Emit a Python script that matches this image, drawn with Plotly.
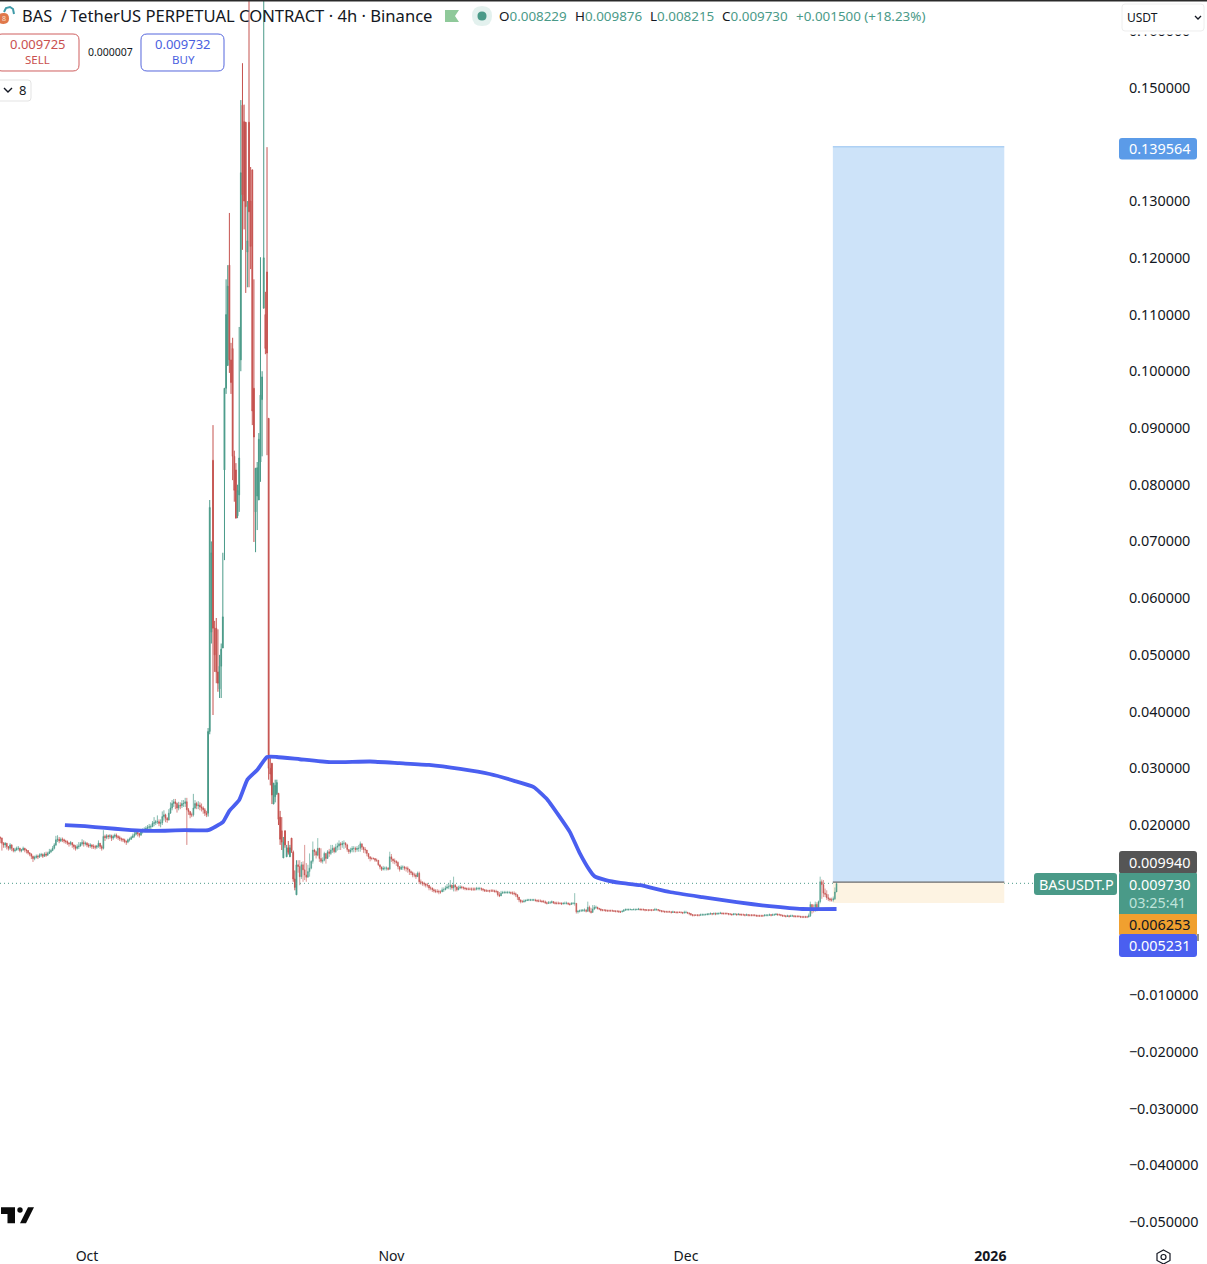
import pandas as pd
import plotly.graph_objects as go

# ---------- values are in units of 0.0001 USDT ----------
START = "2025-09-22 04:00"

early_close = [177,168,165,168,162,159,165,159,155,156,159,159,155,156,159,156,155,151,149,145,141,
               143,145,144,147,148,145,149,147,150,153,155,159, 165,174,
               175,172,175,174,172,171,168,167,169,165,162,159,
               162,163,167,169,167,168,165,163,165,162,162,161, 163,168,162,159,
               180,178,181,180,181,177,
               180,182,180,178,176,175,174,171,170,174,175,178,181,184,187,185,
               182,188,191,192,194,196,197,197,203,204,206,206,203,204,
               215,218,212,209,221,230,238,241, 238,230,235,234,238,238,241, 227,
               224,218,218,230,238,234, 235,232,230,227,221,218]
early_high = [180,178,170,170,168,163,168,166,159,160,162,163,160,158,162,160,158,156,152,150,146,
              146,148,148,150,151,150,152,153,153,158,158,163, 168,181,
              182,179,178,178,176,174,173,170,172,170,166,165,
              166,170,170,175,173,171,170,168,168,166,166,165, 165,173,168,165,
              191,183,184,183,184,183,
              183,185,185,182,181,178,177,176,173,176,178,181,185,188,192,190,
              186,191,194,196,198,200,202,201,207,214,209,217,210,210,
              224,226,220,214,228,240,244,246, 246,240,241,240,244,244,248, 248,
              230,224,222,255,244,241, 242,240,238,233,230,225]
early_low = [168,155,160,160,157,155,156,154,152,152,155,155,152,152,155,152,150,148,145,140,135,
             138,141,140,142,144,142,144,144,146,149,151,154, 157,163,
             170,168,170,170,168,167,165,162,164,160,157,155,
             157,158,162,164,162,164,161,160,160,158,158,157, 158,160,158,155,
             157,172,175,175,176,172,
             174,177,176,174,172,171,170,168,165,168,171,174,177,178,182,180,
             178,182,185,188,190,192,193,193,197,198,200,202,198,196,
             200,208,205,204,208,220,226,232, 228,222,226,228,230,232,232, 165,
             218,212,214,215,228,228, 228,226,224,220,216,214]

spike_open = [221,365,540,843,547,547,470,440,480,512,826,970,1010,1187,1020,1040,850,826,745,782,
              1020,1469,1440,1439,1210,1439,1300,1355,970,752,780,773,840,950,1111,1100,1175,917,
              300,309,237,250,255,256,214,190,142,190,144,160,144,177,152,105,77]
spike_high = [371,773,700,905,560,565,545,500,520,680,970,1162,1187,1279,1050,1059,860,838,800,1078,
              1478,1543,1470,1439,1300,1800,1360,1355,1162,829,840,891,1201,1000,1850,1140,1395,917,
              320,309,274,280,280,256,225,214,179,190,165,172,165,177,155,120,138]
spike_low = [215,360,520,394,470,450,435,424,424,512,667,960,1010,997,960,808,770,741,741,752,
             1000,1214,1250,1138,1148,1148,1180,905,699,681,720,773,805,850,1111,1030,852,280,
             270,237,237,240,253,200,165,156,142,160,144,148,144,151,100,85,77]
spike_close = [365,760,680,547,500,470,450,480,510,567,970,1100,1150,1020,980,850,790,741,790,847,
               1350,1311,1300,1290,1230,1281,1220,930,884,829,830,880,958,990,1200,1040,1032,300,
               290,253,274,270,275,210,175,170,170,165,160,152,160,155,105,90,130]

fall_close = [127,109,130,121,112,108,118,124,136,
              156,153,147,159,141,136,138,150,141,153,
              150,156,159,153,161,163,167,165,168,168,
              165,157,153,156,159,159,157,159,159,167,
              161,157,156,150,144,141,141,141,138,138,
              130,126,122,124,124,124,122,144,140,137,
              136,134,127,122,126,126,124,124,122,118,
              116,112,112,109,115,100,99,97,96,94,
              94,89,89,86,84,83,83,82,82,86,
              86,89,91,91,94,89,94,91,86,89,
              91,90,89,88,87,87,87,87,87,87,
              88,88,88,87,86,84,84,84,84,84,
              84,83,83,77,75,80,81,81,81,81,
              81,80,80,79,77,73,68,65,65,66,
              67,68,68,68,68,68,67,66,66,66,
              65,65,63,62,63,63,65,63,62,62,
              62,62,61,62,62,62,61,60,62,62,62,47]
fall_high = [138,138,135,136,165,133,130,150,138,
             171,158,155,177,160,159,143,153,150,156,
             158,165,165,162,167,169,173,170,172,173,
             170,167,157,160,163,163,162,163,165,171,
             167,162,161,156,150,145,144,143,142,141,
             138,130,127,128,127,127,126,153,149,141,
             141,138,136,127,129,129,128,127,127,122,
             120,118,116,115,118,118,104,101,100,98,
             98,93,92,90,88,87,87,86,85,90,
             90,93,96,97,103,95,109,96,90,93,
             94,93,92,91,90,90,90,90,90,90,
             91,91,91,90,89,87,87,86,86,87,
             87,86,86,84,82,84,84,84,84,84,
             84,83,83,83,81,78,73,69,68,69,
             69,70,70,70,70,70,70,69,69,69,
             68,68,67,65,66,66,67,66,65,65,
             65,64,64,64,65,65,64,63,64,64,80,62]
fall_low = [116,94,105,100,103,100,108,109,122,
            132,146,141,145,135,133,132,136,132,146,
            144,147,151,150,151,155,156,156,160,158,
            160,153,149,150,152,152,152,153,153,153,
            156,151,150,145,140,136,138,139,135,135,
            128,122,119,120,120,120,120,122,135,132,
            131,128,122,118,121,121,120,118,116,112,
            112,108,108,105,109,96,95,93,92,90,
            90,85,85,82,81,80,80,78,79,82,
            82,85,87,87,86,86,83,83,83,85,
            87,87,86,85,85,85,85,84,84,84,
            85,85,85,84,83,82,82,82,81,82,
            82,81,80,74,73,75,79,79,79,79,
            79,78,77,76,73,68,64,62,63,63,
            64,66,66,66,66,66,65,64,64,64,
            63,63,61,60,61,61,62,61,60,60,
            60,60,59,60,60,60,59,58,60,60,58,44]

quiet_close = [48,49,49,50,50,48,55,48,46,52, 55,55,53,52,50,50,50,49,49,49,
               49,49,48,48,48,47,47,48,50,51, 51,51,51,51,51,51,51,52,51,51,
               51,50,50,50,50,50,50,51,51,50, 49,48,48,47,47,47,47,46,47,46,
               46,46,46,46,45,46,46,45,44,42, 41,41,41,41,41,42,42,42,42,43,
               43,44,43,44,43,44,44,45,44,44, 44,44,43,43,42,43,43,42,43,42,
               42,42,41,42,41,41,41,41,41,40, 40,40,40,40,41,41,41,42,41,42,
               42,43,42,42,41,40,40,39,40,39, 40,40,39,39,39,39,38,38,38,38,38,
               40,60,52,50,60,50,65,100,95,80,78,72,70,68,68,70,82,97]
quiet_high = [50,51,52,52,53,52,65,58,54,59, 59,58,56,54,53,52,52,52,51,51,
              51,51,50,50,50,50,49,50,52,53, 53,53,53,52,53,53,53,54,53,53,
              53,52,52,52,52,52,52,54,53,52, 51,50,50,49,49,49,49,48,49,48,
              48,48,48,48,47,49,49,47,46,45, 43,43,43,43,43,44,44,44,44,45,
              45,46,45,46,46,46,46,47,46,46, 46,46,45,45,44,45,45,44,45,44,
              44,44,43,44,43,43,43,43,43,42, 42,42,42,42,43,43,43,44,43,44,
              44,45,44,44,43,42,42,41,42,41, 42,42,41,41,41,41,40,40,40,40,40,
              44,65,60,60,65,64,67,109,104,103,88,85,78,72,72,74,90,99]
quiet_low = [44,46,47,47,47,46,47,46,44,46, 50,52,51,50,48,48,48,47,47,47,
             47,47,47,46,46,45,45,46,47,49, 49,49,50,49,50,49,50,50,49,49,
             49,48,49,48,49,48,49,49,49,48, 47,46,46,45,46,45,46,44,45,45,
             44,44,45,44,43,44,44,43,41,40, 39,39,40,39,39,40,40,40,41,41,
             41,42,41,42,41,42,42,43,42,42, 42,42,41,41,40,41,41,40,41,40,
             40,40,39,40,39,39,39,39,39,38, 38,38,38,38,39,39,39,40,39,40,
             40,41,40,40,39,38,38,37,38,37, 38,38,37,37,37,37,36,36,36,36,36,
             37,38,44,46,47,48,50,62,70,73,73,68,66,65,65,65,68,82]

avg_dates = ["2025-09-28 18:00","2025-09-30 19:00","2025-10-02 20:00","2025-10-04 21:00","2025-10-06 22:00",
             "2025-10-08 23:00","2025-10-10 23:30","2025-10-13 08:00","2025-10-14 20:00","2025-10-15 12:00",
             "2025-10-16 12:00","2025-10-17 08:00","2025-10-18 08:00","2025-10-19 08:00","2025-10-20 08:00",
             "2025-10-22 16:00","2025-10-25 18:00","2025-10-29 20:00","2025-11-01 20:00","2025-11-04 20:00",
             "2025-11-08 00:00","2025-11-11 00:00","2025-11-13 12:00","2025-11-15 12:00","2025-11-16 20:00",
             "2025-11-18 00:00","2025-11-19 04:00","2025-11-20 04:00","2025-11-21 04:00","2025-11-21 16:00",
             "2025-11-22 20:00","2025-11-24 08:00","2025-11-26 08:00","2025-11-29 08:00","2025-12-02 16:00",
             "2025-12-06 04:00","2025-12-09 12:00","2025-12-12 20:00","2025-12-16 08:00"]
avg_values = [200,198,195,192,190,190,191,191,205,225,244,280,297,320,320,316,311,312,309,306,
              299,290,278,267,246,218,188,151,121,110,103,98,94,82,73,64,57,52,52]

price_ticks = [0.16,0.15,0.13,0.12,0.11,0.10,0.09,0.08,0.07,0.06,0.05,0.04,0.03,0.02,
               -0.01,-0.02,-0.03,-0.04,-0.05]
month_ticks = ["2025-10-01","2025-11-01","2025-12-01","2026-01-01"]
month_labels = ["Oct","Nov","Dec","<b>2026</b>"]
last_price = 0.009730
target_price = 0.139564
entry_price = 0.009940
stop_price = 0.006253
box_start = "2025-12-15 23:00"
box_end = "2026-01-02 10:00"

# ---------- colours ----------
GREEN = "#4a9a88"
RED = "#c5524f"
BLUE = "#4a5ff0"
FONT = "Noto Sans"

# ---------- assemble candles ----------
closes = [v / 1e4 for v in early_close + spike_close + fall_close + quiet_close]
highs = [v / 1e4 for v in early_high + spike_high + fall_high + quiet_high]
lows = [v / 1e4 for v in early_low + spike_low + fall_low + quiet_low]
opens = [0.0178] + closes[:-1]
n0 = len(early_close)
n1 = n0 + len(spike_open)
opens[n0:n1] = [v / 1e4 for v in spike_open]
dates = pd.date_range(START, periods=len(closes), freq="4h")

W, H = 1207, 1264
PW, PH = 1117, 1236  # plot area in pixels


def fx(px):
    return px / PW


def fy(py):
    return 1 - py / PH


def rbox(x0, y0, x1, y1, r=3):
    a, b, c, d = x0, x1, y0, y1
    pts = [("M", a + r, c), ("L", b - r, c), ("Q", b, c, b, c + r), ("L", b, d - r), ("Q", b, d, b - r, d),
           ("L", a + r, d), ("Q", a, d, a, d - r), ("L", a, c + r), ("Q", a, c, a + r, c)]
    out = []
    for p in pts:
        coords = p[1:]
        s = " ".join(
            f"{fx(coords[i]):.5f},{fy(coords[i + 1]):.5f}" for i in range(0, len(coords), 2)
        )
        out.append(p[0] + s)
    return " ".join(out) + " Z"


def poly(points):
    return "M" + " L".join(f"{fx(x):.5f},{fy(y):.5f}" for x, y in points) + " Z"


def openpoly(points):
    return "M" + " L".join(f"{fx(x):.5f},{fy(y):.5f}" for x, y in points)


shapes = []


def box(x0, y0, x1, y1, fill=None, line=None, r=3, lw=1):
    shapes.append(dict(type="path", xref="paper", yref="paper", path=rbox(x0, y0, x1, y1, r),
                       fillcolor=fill or "rgba(0,0,0,0)", line=dict(color=line or "rgba(0,0,0,0)", width=lw),
                       layer="above"))


def pathshape(d, fill=None, line=None, lw=1):
    shapes.append(dict(type="path", xref="paper", yref="paper", path=d,
                       fillcolor=fill or "rgba(0,0,0,0)", line=dict(color=line or "rgba(0,0,0,0)", width=lw),
                       layer="above"))


annotations = []


def text(px, py, s, size=14, color="#131722", anchor="left"):
    annotations.append(dict(xref="paper", yref="paper", x=fx(px), y=fy(py), text=s, showarrow=False,
                            xanchor=anchor, yanchor="middle", align=anchor,
                            font=dict(family=FONT, size=size, color=color),
                            borderpad=0, borderwidth=0))


fig = go.Figure()
# same candle series, drawn in three stretches so the quiet ones get a finer stroke
for a, b, lw in [(0, n0, 0.7), (n0, n1, 1.0), (n1, len(closes), 0.6)]:
    fig.add_trace(go.Candlestick(
        x=dates[a:b], open=opens[a:b], high=highs[a:b], low=lows[a:b], close=closes[a:b],
        increasing=dict(line=dict(color=GREEN, width=lw), fillcolor=GREEN),
        decreasing=dict(line=dict(color=RED, width=lw), fillcolor=RED),
        whiskerwidth=0, showlegend=False, name="BASUSDT.P",
    ))
fig.add_trace(go.Scatter(
    x=avg_dates, y=[v / 1e4 for v in avg_values], mode="lines",
    line=dict(color=BLUE, width=3.8, shape="spline", smoothing=0.4), showlegend=False, name="Average",
))

# long-position tool
shapes.append(dict(type="rect", xref="x", yref="y", x0=box_start, x1=box_end, y0=entry_price, y1=target_price,
                   fillcolor="#cde3f9", line=dict(width=0), layer="below"))
shapes.append(dict(type="rect", xref="x", yref="y", x0=box_start, x1=box_end, y0=stop_price, y1=entry_price,
                   fillcolor="#fdf3e2", line=dict(width=0), layer="below"))
shapes.append(dict(type="line", xref="x", yref="y", x0=box_start, x1=box_end, y0=target_price, y1=target_price,
                   line=dict(color="#93c1f0", width=1), layer="below"))
shapes.append(dict(type="line", xref="x", yref="y", x0=box_start, x1=box_end, y0=entry_price, y1=entry_price,
                   line=dict(color="#6b6b6b", width=1.2), layer="above"))
# last-price dotted line
shapes.append(dict(type="line", xref="paper", yref="y", x0=0, x1=1, y0=last_price, y1=last_price,
                   line=dict(color=GREEN, width=1, dash="1px,3px"), layer="below"))
# top edge
pathshape(poly([(0, 0), (W, 0), (W, 1.5), (0, 1.5)]), fill="#2a2a2a")

# header
pathshape(rbox(-2, 13, 9, 24, 5.4), fill="#e0784a")
pathshape(openpoly([(4, 12), (6, 8), (10, 7), (13, 9), (14, 14)]), line="#3f9aa8", lw=2)
text(3.5, 18.5, "8", 7, "#f8e2d0", "center")
text(22, 16, "BAS  /", 16.4, "#131722")
text(70, 16, "TetherUS PERPETUAL CONTRACT · 4h · Binance", 16.6, "#131722")
pathshape(poly([(445, 10), (459, 10), (455, 16), (459, 22), (445, 22)]), fill="#8fc99a")
pathshape(rbox(472, 6, 492, 26, 10), fill="#e3f1ee")
pathshape(rbox(477.5, 11.5, 486.5, 20.5, 4.5), fill=GREEN)
ohlc = [(499, "O", "0.008229"), (575, "H", "0.009876"), (650, "L", "0.008215"), (722, "C", "0.009730")]
for px, lab, val in ohlc:
    text(px, 16, f'{lab}<span style="color:{GREEN}">{val}</span>', 13.4, "#131722")
text(796, 16, "+0.001500 (+18.23%)", 13.4, GREEN)

# sell / buy
box(-4, 34, 79, 71, fill="#ffffff", line="#cf5f5f", r=6)
text(38, 44, "0.009725", 13, "#c9504f", "center")
text(38, 60, "SELL", 11.5, "#c9504f", "center")
text(110.5, 52, "0.000007", 10.5, "#131722", "center")
box(141, 34, 224, 71, fill="#ffffff", line="#5566dd", r=6)
text(183, 44, "0.009732", 13, "#4a5fe0", "center")
text(183, 60, "BUY", 11.5, "#4a5fe0", "center")
box(-4, 80, 31, 101, fill="#ffffff", line="#e3e3e3", r=3)
pathshape(openpoly([(4, 88), (8, 92), (12, 88)]), line="#131722", lw=1.4)
text(22, 90, "8", 13, "#131722", "center")

# currency selector
box(1122, 4, 1204, 34, fill="#ffffff", line="#ffffff", r=1)
box(1122, 4, 1204, 31, fill="#ffffff", line="#eeeeee", r=3)
text(1127, 17, "USDT", 12, "#131722")
pathshape(openpoly([(1195, 16), (1198, 19), (1201, 16)]), line="#131722", lw=1.3)

# price labels
box(1119, 138, 1197, 159.5, fill="#5b9be8", r=3)
text(1129, 148, "0.139564", 14.4, "#ffffff")
box(1119, 851, 1197, 874, fill="#555555", r=3)
text(1129, 862, "0.009940", 14.4, "#ffffff")
box(1034, 873, 1117, 895, fill=GREEN, r=3)
text(1039, 884, "BASUSDT.P", 14.4, "#ffffff")
box(1119, 873, 1197, 915, fill=GREEN, r=1)
text(1129, 884, "0.009730", 14.4, "#ffffff")
text(1129, 902, "03:25:41", 14.4, "#bfe3da")
box(1119, 914, 1197, 935, fill="#f0a02f", r=1)
text(1129, 924, "0.006253", 14.4, "#131722")
box(1119, 934, 1197, 957, fill=BLUE, r=3)
text(1129, 945, "0.005231", 14.4, "#ffffff")
pathshape(openpoly([(1198, 934), (1198, 941)]), line="#222222", lw=1)

# TradingView logo
pathshape(poly([(1, 1207.3), (15, 1207.3), (15, 1223.3), (7.5, 1223.3), (7.5, 1214), (1, 1214)]), fill="#0b0b0b")
pathshape(rbox(17.3, 1207.3, 22.7, 1212.7, 2.7), fill="#0b0b0b")
pathshape(poly([(28, 1207.3), (34, 1207.3), (26, 1223.3), (20, 1223.3)]), fill="#0b0b0b")

# settings icon
pathshape(poly([(1163.5, 1250), (1170, 1253.5), (1170, 1260.5), (1163.5, 1264), (1157, 1260.5), (1157, 1253.5)]),
          line="#131722", lw=1.2)
pathshape(rbox(1161, 1254.5, 1166, 1259.5, 2.5), line="#131722", lw=1.2)

fig.update_layout(
    width=W, height=H, margin=dict(l=0, r=W - PW, t=0, b=H - PH, pad=0),
    paper_bgcolor="#ffffff", plot_bgcolor="#ffffff", showlegend=False,
    font=dict(family=FONT, size=14.4, color="#131722"),
    shapes=shapes, annotations=annotations, hovermode=False,
    xaxis=dict(type="date", range=["2025-09-22 03:22", "2026-01-13 21:30"], rangeslider=dict(visible=False),
               automargin=False,
               tickvals=month_ticks, ticktext=month_labels, showgrid=False, zeroline=False, showline=False,
               ticks="outside", ticklen=7, tickcolor="rgba(0,0,0,0)", tickfont=dict(size=14, color="#131722")),
    yaxis=dict(side="right", range=[-0.05244, 0.16544], tickmode="array", tickvals=price_ticks,
               automargin=False,
               ticktext=[f"{v:.6f}".replace("-", "\u2212") for v in price_ticks], showgrid=False, zeroline=False,
               showline=False, ticks="outside", ticklen=8, tickcolor="rgba(0,0,0,0)",
               tickfont=dict(size=14.4, color="#131722")),
)

fig.write_html("out.html", config=dict(displayModeBar=False),
               post_script="document.body.style.margin='0';document.body.style.overflow='hidden';")
